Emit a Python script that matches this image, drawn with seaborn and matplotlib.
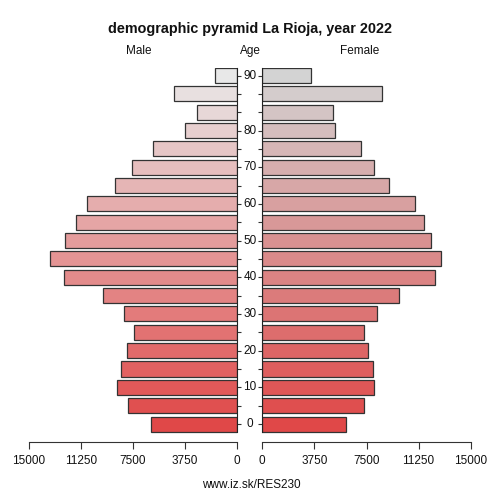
import numpy as np
import pandas as pd
import matplotlib
matplotlib.use("Agg")
import matplotlib.pyplot as plt
import matplotlib.transforms as mtransforms
from matplotlib.colors import to_rgb
import seaborn as sns

# ============================================================
# DATA
# ============================================================
age_pos = list(range(20))  # bar slots, bottom to top
male = [6230, 7830, 8670, 8380, 7910, 7450, 8120, 9650, 12480, 13440,
        12360, 11570, 10780, 8770, 7550, 6080, 3740, 2920, 4530, 1580]
female = [6020, 7340, 8020, 7990, 7630, 7340, 8280, 9840, 12450, 12840,
          12160, 11660, 10970, 9100, 8040, 7130, 5230, 5070, 8620, 3530]
age_tick_pos = [0, 2, 4, 6, 8, 10, 12, 14, 16, 19]
age_tick_labels = ['0', '10', '20', '30', '40', '50', '60', '70', '80', '90']
x_ticks = [0, 3750, 7500, 11250, 15000]

# ============================================================
# STYLE
# ============================================================
sns.set_style('white')
plt.rcParams['font.family'] = ['Liberation Sans', 'DejaVu Sans']
plt.rcParams['text.color'] = '#111111'
plt.rcParams['xtick.labelcolor'] = '#111111'


def gradient(c0, c1, n):
    a, b = np.array(to_rgb(c0)), np.array(to_rgb(c1))
    return [tuple(a + (b - a) * i / (n - 1)) for i in range(n)]


male_colors = gradient('#e04848', '#e8e8e8', len(age_pos))
female_colors = gradient('#e04848', '#d3d3d3', len(age_pos))

df = pd.DataFrame({'pos': age_pos, 'male': male, 'female': female})

fig = plt.figure(figsize=(5, 5), dpi=100)
W, H = 500.0, 500.0
bottom_px, top_px = 442.0, 68.0
ax_m = fig.add_axes([28.7 / W, 1 - bottom_px / H, (237.3 - 28.7) / W, (bottom_px - top_px) / H])
ax_f = fig.add_axes([262.3 / W, 1 - bottom_px / H, (470.7 - 262.3) / W, (bottom_px - top_px) / H])

ylo, yhi = -0.98, 19.41

for ax, col, pal in [(ax_m, 'male', male_colors), (ax_f, 'female', female_colors)]:
    sns.barplot(data=df, x=col, y='pos', hue='pos', palette=pal, orient='h',
                native_scale=True, width=0.82, legend=False, ax=ax, saturation=1,
                edgecolor='#333333', linewidth=0.9)
    ax.set_ylim(ylo, yhi)
    ax.set_xlabel('')
    ax.set_ylabel('')
    ax.set_xticks(x_ticks)
    ax.set_xticklabels([str(t) for t in x_ticks], fontsize=8.5)
    ax.tick_params(axis='x', direction='out', length=5, width=0.8, pad=4,
                   color='#333333', bottom=True)
    ax.spines['top'].set_visible(False)
    ax.spines['bottom'].set_linewidth(0.8)
    ax.spines['bottom'].set_color('#333333')
    ax.grid(False)

# male panel: reversed axis, vertical line at zero on the right
ax_m.set_xlim(15000, 0)
ax_m.spines['left'].set_visible(False)
ax_m.spines['right'].set_bounds(-0.41, 19.41)
ax_m.spines['right'].set_linewidth(0.8)
ax_m.spines['right'].set_color('#222222')
ax_m.yaxis.set_ticks_position('right')
ax_m.set_yticks(age_pos)
ax_m.set_yticklabels([])
ax_m.tick_params(axis='y', direction='out', length=3, width=0.8, color='#333333')

# female panel
ax_f.set_xlim(0, 15000)
ax_f.spines['right'].set_visible(False)
ax_f.spines['left'].set_bounds(-0.41, 19.41)
ax_f.spines['left'].set_linewidth(0.8)
ax_f.spines['left'].set_color('#222222')
ax_f.yaxis.set_ticks_position('left')
ax_f.set_yticks(age_pos)
ax_f.set_yticklabels([])
ax_f.tick_params(axis='y', direction='out', length=3, width=0.8, color='#333333')

# age labels in the middle gap
trans = mtransforms.blended_transform_factory(fig.transFigure, ax_m.transData)
for p, lab in zip(age_tick_pos, age_tick_labels):
    fig.text(250 / W, p, lab, transform=trans, ha='center', va='center', fontsize=8.5)

fig.text(0.5, 1 - 29 / H, 'demographic pyramid La Rioja, year 2022',
         ha='center', va='center', fontsize=10.4, fontweight='bold')
fig.text(139 / W, 1 - 51 / H, 'Male', ha='center', va='center', fontsize=8.5)
fig.text(250 / W, 1 - 51 / H, 'Age', ha='center', va='center', fontsize=8.5)
fig.text(360 / W, 1 - 51 / H, 'Female', ha='center', va='center', fontsize=8.5)
fig.text(251 / W, 1 - 485 / H, 'www.iz.sk/RES230', ha='center', va='center', fontsize=8.5)

fig.savefig('out.png', dpi=100)
